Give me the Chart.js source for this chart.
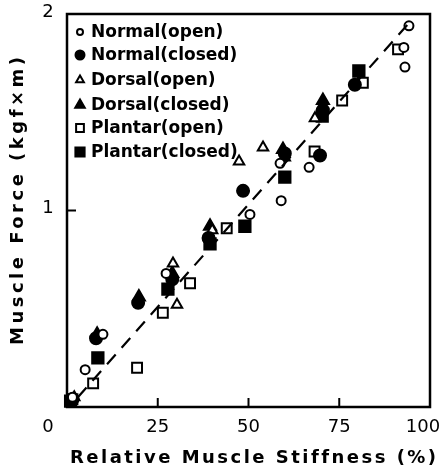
<!DOCTYPE html>
<html lang="en">
<head>
<meta charset="UTF-8" />
<title>Muscle Force vs Relative Muscle Stiffness</title>
<script src="https://cdn.jsdelivr.net/npm/chart.js"></script>
<style>
  html, body { margin: 0; padding: 0; background: #fff; }
  #chart-container { width: 447px; height: 472px; }
</style>
</head>
<body>
<div id="chart-container"><canvas id="myChart" width="447" height="472"></canvas></div>
<script>
const seriesLabels = ["Normal(open)", "Normal(closed)", "Dorsal(open)", "Dorsal(closed)", "Plantar(open)", "Plantar(closed)"];

const normalOpen = [
  {x: 94.2, y: 1.94}, {x: 92.8, y: 1.83}, {x: 93.1, y: 1.73}, {x: 66.7, y: 1.22},
  {x: 59, y: 1.05}, {x: 50.4, y: 0.98}, {x: 58.7, y: 1.24}, {x: 27.3, y: 0.68},
  {x: 9.9, y: 0.37}, {x: 5, y: 0.19}, {x: 1.5, y: 0.05}
];
const normalClosed = [
  {x: 79.3, y: 1.64}, {x: 70.5, y: 1.51}, {x: 69.7, y: 1.28}, {x: 60, y: 1.29},
  {x: 48.5, y: 1.1}, {x: 39, y: 0.86}, {x: 29, y: 0.65}, {x: 19.6, y: 0.53},
  {x: 8, y: 0.35}, {x: 1.5, y: 0.04}
];
const dorsalOpen = [
  {x: 68.3, y: 1.47}, {x: 60, y: 1.27}, {x: 54, y: 1.32}, {x: 47.4, y: 1.25},
  {x: 40, y: 0.9}, {x: 29.2, y: 0.73}, {x: 30.3, y: 0.52}, {x: 2, y: 0.05}
];
const dorsalClosed = [
  {x: 70.5, y: 1.56}, {x: 59.5, y: 1.31}, {x: 39.4, y: 0.92}, {x: 29, y: 0.68},
  {x: 19.8, y: 0.56}, {x: 8.3, y: 0.37}
];
const plantarOpen = [
  {x: 91.2, y: 1.82}, {x: 81.5, y: 1.65}, {x: 75.8, y: 1.56}, {x: 68.2, y: 1.3},
  {x: 44, y: 0.91}, {x: 33.9, y: 0.63}, {x: 26.4, y: 0.48}, {x: 19.3, y: 0.2},
  {x: 7.2, y: 0.12}, {x: 1.5, y: 0.04}
];
const plantarClosed = [
  {x: 80.4, y: 1.71}, {x: 70.3, y: 1.48}, {x: 60, y: 1.17}, {x: 49, y: 0.92},
  {x: 39.4, y: 0.83}, {x: 27.8, y: 0.6}, {x: 8.5, y: 0.25}, {x: 1, y: 0.03}
];
const fitLine = [{x: 3, y: 0.05}, {x: 94, y: 1.95}];

const xTicks = [0, 25, 50, 75, 100];
const yTicks = [0, 1, 2];
const xTitle = "Relative Muscle Stiffness (%)";
const yTitle = "Muscle Force (kgf×m)";

const styles = [
  {pointStyle: "circle", radius: 4.5, fill: "#fff"},
  {pointStyle: "circle", radius: 6, fill: "#000"},
  {pointStyle: "triangle", radius: 6, fill: "#fff"},
  {pointStyle: "triangle", radius: 7, fill: "#000"},
  {pointStyle: "rect", radius: 7, fill: "#fff"},
  {pointStyle: "rect", radius: 8, fill: "#000"}
];
const seriesData = [normalOpen, normalClosed, dorsalOpen, dorsalClosed, plantarOpen, plantarClosed];

const datasets = seriesData.map((data, i) => ({
  type: "scatter",
  label: seriesLabels[i],
  data: data,
  pointStyle: styles[i].pointStyle,
  pointRadius: styles[i].radius,
  backgroundColor: styles[i].fill,
  borderColor: "#000",
  borderWidth: 2,
  clip: false
}));
datasets.unshift({
  type: "line",
  label: "fit",
  data: fitLine,
  borderColor: "#000",
  borderWidth: 2.2,
  borderDash: [13, 9],
  pointRadius: 0,
  fill: false
});

const FONT = '"DejaVu Sans", sans-serif';

// spread letters so a title spans the same width as in the original figure
function spacedText(ctx, text, x, y, width) {
  ctx.letterSpacing = "0px";
  const w = ctx.measureText(text).width;
  ctx.letterSpacing = ((width - w) / (text.length - 1)) + "px";
  ctx.fillText(text, x, y);
  ctx.letterSpacing = "0px";
}

const framePlugin = {
  id: "frame",
  afterDraw(chart) {
    const ctx = chart.ctx;
    const a = chart.chartArea;
    const xs = chart.scales.x, ys = chart.scales.y;
    ctx.save();
    ctx.strokeStyle = "#000";
    ctx.lineWidth = 2.5;
    ctx.strokeRect(a.left, a.top, a.right - a.left, a.bottom - a.top);

    // inward tick marks
    ctx.lineWidth = 2;
    xTicks.slice(1, -1).forEach(v => {
      const px = xs.getPixelForValue(v);
      ctx.beginPath(); ctx.moveTo(px, a.bottom); ctx.lineTo(px, a.bottom - 9); ctx.stroke();
    });
    yTicks.slice(1, -1).forEach(v => {
      const py = ys.getPixelForValue(v);
      ctx.beginPath(); ctx.moveTo(a.left, py); ctx.lineTo(a.left + 9, py); ctx.stroke();
    });

    // tick labels
    ctx.fillStyle = "#000";
    ctx.font = "18px " + FONT;
    ctx.textAlign = "center";
    ctx.textBaseline = "middle";
    xTicks.slice(1).forEach(v => {
      let px = xs.getPixelForValue(v);
      if (v === 100) px -= 7;
      ctx.fillText(String(v), px, a.bottom + 20);
    });
    ctx.fillText("0", a.left - 19, a.bottom + 20);
    yTicks.slice(1).forEach(v => {
      ctx.fillText(String(v), a.left - 19, ys.getPixelForValue(v) - 2);
    });

    // axis titles
    ctx.textAlign = "left";
    ctx.font = "bold 18px " + FONT;
    spacedText(ctx, xTitle, 70, a.bottom + 51, 365);
    ctx.save();
    ctx.translate(18, 345);
    ctx.rotate(-Math.PI / 2);
    spacedText(ctx, yTitle, 0, 0, 288);
    ctx.restore();

    // legend inside plot area
    ctx.font = "bold 17px " + FONT;
    ctx.textAlign = "left";
    const rows = [32, 55, 80, 105, 128, 152];
    seriesLabels.forEach((lbl, i) => {
      const st = styles[i];
      ctx.fillStyle = st.fill;
      ctx.strokeStyle = "#000";
      Chart.helpers.drawPoint(ctx, {
        pointStyle: st.pointStyle, radius: st.radius - 1.5, borderWidth: 2, rotation: 0
      }, 80, rows[i]);
      ctx.fillStyle = "#000";
      ctx.fillText(lbl, 91, rows[i] + 1);
    });
    ctx.restore();
  }
};

const ctx = document.getElementById("myChart").getContext("2d");
new Chart(ctx, {
  data: { datasets },
  options: {
    responsive: false,
    animation: false,
    devicePixelRatio: 1,
    layout: { padding: { left: 67, right: 17, top: 14, bottom: 65 } },
    scales: {
      x: { type: "linear", min: 0, max: 100, display: false },
      y: { type: "linear", min: 0, max: 2, display: false }
    },
    plugins: { legend: { display: false }, tooltip: { enabled: false } }
  },
  plugins: [framePlugin]
});
</script>
</body>
</html>
